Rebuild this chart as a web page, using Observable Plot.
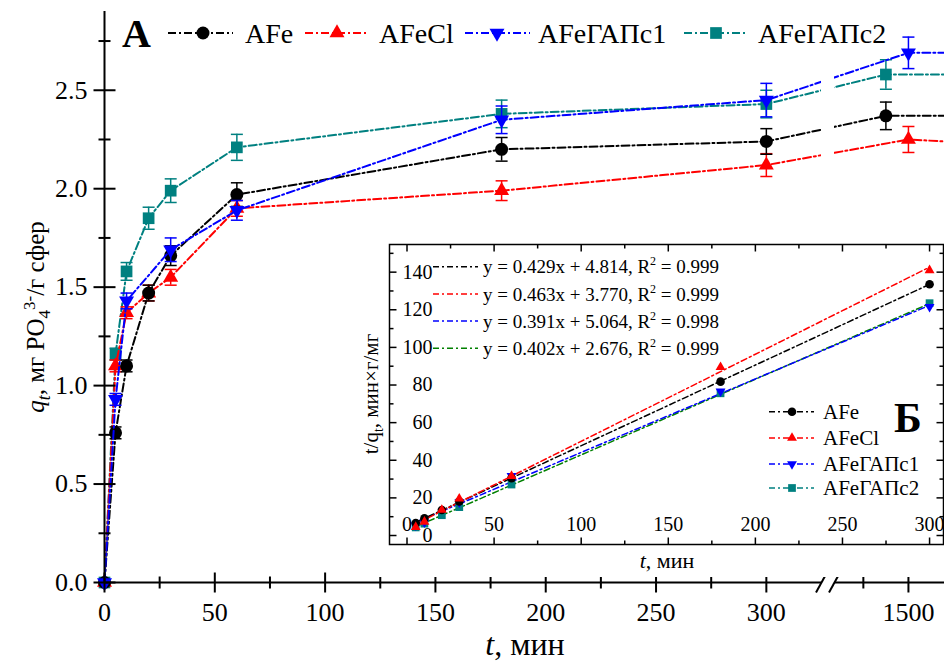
<!DOCTYPE html>
<html>
<head>
<meta charset="utf-8">
<script src="https://cdn.jsdelivr.net/npm/d3@7"></script>
<script src="https://cdn.jsdelivr.net/npm/@observablehq/plot@0.6"></script>
<style>
  html, body { margin: 0; padding: 0; background: #fff; overflow: hidden; }
  #chart { position: relative; width: 944px; height: 661px; }
  #chart svg { position: absolute; left: 0; top: 0; }
</style>
</head>
<body>
<div id="chart"></div>
<script>
// ---- series ----
const seriesNames  = ["AFe", "AFeCl", "AFeГАПс1", "AFeГАПс2"];
const seriesColors = ["#000000", "#ff0000", "#0000ff", "#008080"];
const fitColors    = ["#000000", "#ff0000", "#0000ff", "#008000"];

// sorption kinetics: t (min), q_t (mg PO4 3- / g spheres), error half-width
const timesAFe = [0, 5, 10, 20, 30, 60, 180, 300, 1475, 1560];
const qAFe     = [0, 0.76, 1.10, 1.47, 1.66, 1.97, 2.20, 2.24, 2.37, 2.37];
const errAFe   = [0, 0.03, 0.03, 0.04, 0.05, 0.06, 0.06, 0.065, 0.07, 0.07];

const timesAFeCl = [0, 5, 10, 20, 30, 60, 180, 300, 1500, 1560];
const qAFeCl     = [0, 1.10, 1.37, 1.47, 1.55, 1.90, 1.99, 2.12, 2.25, 2.235];
const errAFeCl   = [0, 0.03, 0.03, 0.04, 0.04, 0.04, 0.05, 0.058, 0.066, 0.066];

const timesG1 = [0, 5, 10, 30, 60, 180, 300, 1500, 1560];
const qG1     = [0, 0.93, 1.43, 1.69, 1.89, 2.35, 2.45, 2.69, 2.69];
const errG1   = [0, 0.03, 0.04, 0.06, 0.05, 0.07, 0.085, 0.08, 0.08];

const timesG2 = [0, 5, 10, 20, 30, 60, 180, 300, 1475, 1560];
const qG2     = [0, 1.16, 1.58, 1.85, 1.99, 2.21, 2.38, 2.43, 2.58, 2.58];
const errG2   = [0, 0.03, 0.045, 0.056, 0.06, 0.066, 0.07, 0.07, 0.075, 0.075];

// pseudo-second-order plot: t/q_t (min·g/mg)
const kinTimes   = [5, 10, 20, 30, 60, 180, 300];
const kinTimesG1 = [5, 10, 30, 60, 180, 300];
const kinAFe   = [6.6, 9.1, 13.6, 18.1, 30.5, 81.8, 133.6];
const kinAFeCl = [4.5, 7.3, 13.6, 19.6, 31.6, 89.5, 141.0];
const kinG1    = [5.4, 7.0, 17.6, 31.7, 76.6, 121.6];
const kinG2    = [4.3, 6.3, 10.8, 15.1, 27.1, 75.6, 123.5];

// linear fits y = a·x + b
const fitSlope     = [0.429, 0.463, 0.391, 0.402];
const fitIntercept = [4.814, 3.770, 5.064, 2.676];
const fitR2        = [0.999, 0.999, 0.998, 0.999];
const fitSpan      = [5, 300];

// axis ticks
const xMajor = [0, 50, 100, 150, 200, 250, 300, 1500];
const xMinor = [25, 75, 125, 175, 225, 275, 1450];
const yMajor = [0, 0.5, 1.0, 1.5, 2.0, 2.5];
const yMinor = [0.25, 0.75, 1.25, 1.75, 2.25, 2.75];
const xBreak = [325, 1418];

const inXMajor = [0, 50, 100, 150, 200, 250, 300];
const inXMinor = [25, 75, 125, 175, 225, 275];
const inYMajor = [0, 20, 40, 60, 80, 100, 120, 140];
const inYMinor = [10, 30, 50, 70, 90, 110, 130, 150];

// ---- symbols ----
const unit = s => Math.sqrt(s / Math.PI);
const symCircle = {draw(c, s) { const r = unit(s); c.moveTo(r, 0); c.arc(0, 0, r, 0, 2 * Math.PI); }};
const symUp = {draw(c, s) { const r = unit(s), a = 1.15 * r, h = a * Math.sqrt(3);
  c.moveTo(0, -2 * h / 3); c.lineTo(a, h / 3); c.lineTo(-a, h / 3); c.closePath(); }};
const symDown = {draw(c, s) { const r = unit(s), a = 1.15 * r, h = a * Math.sqrt(3);
  c.moveTo(0, 2 * h / 3); c.lineTo(a, -h / 3); c.lineTo(-a, -h / 3); c.closePath(); }};
const symSquare = {draw(c, s) { const r = unit(s) * 0.9; c.rect(-r, -r, 2 * r, 2 * r); }};
const symbols = [symCircle, symUp, symDown, symSquare];
// line-like glyphs for ticks, caps and the axis break
const hLine = {draw(c, s) { const r = unit(s); c.moveTo(-r, 0); c.lineTo(r, 0); }};
const vLine = {draw(c, s) { const r = unit(s); c.moveTo(0, -r); c.lineTo(0, r); }};
const slash = {draw(c, s) { const r = unit(s); c.moveTo(-0.55 * r, r); c.lineTo(0.55 * r, -r); }};
const tickUp    = {draw(c, s) { const r = unit(s); c.moveTo(0, 0); c.lineTo(0, -r); }};
const tickDown  = {draw(c, s) { const r = unit(s); c.moveTo(0, 0); c.lineTo(0, r); }};
const tickRight = {draw(c, s) { const r = unit(s); c.moveTo(0, 0); c.lineTo(r, 0); }};
const tickLeft  = {draw(c, s) { const r = unit(s); c.moveTo(0, 0); c.lineTo(-r, 0); }};

const dash = "8,3,2,3";
const font = "'Liberation Serif', 'Times New Roman', serif";

function rowsOf(times, q, err) {
  return times.map((t, j) => ({t, q: q[j], e: err[j]}));
}
const mainSeries = [
  rowsOf(timesAFe, qAFe, errAFe),
  rowsOf(timesAFeCl, qAFeCl, errAFeCl),
  rowsOf(timesG1, qG1, errG1),
  rowsOf(timesG2, qG2, errG2)
];
const drawOrder = [3, 1, 0, 2];

const mainMarks = [];
for (const i of drawOrder) {
  const rows = mainSeries[i];
  const withErr = rows.filter(d => d.e > 0);
  const col = seriesColors[i];
  mainMarks.push(
    Plot.line(rows, {x: "t", y: "q", stroke: col, strokeWidth: 2, strokeDasharray: dash}),
    Plot.ruleX(withErr, {x: "t", y1: d => d.q - d.e, y2: d => d.q + d.e, stroke: col, strokeWidth: 1.5}),
    Plot.dot(withErr, {x: "t", y: d => d.q + d.e, symbol: hLine, r: 6, stroke: col, fill: "none", strokeWidth: 1.5}),
    Plot.dot(withErr, {x: "t", y: d => d.q - d.e, symbol: hLine, r: 6, stroke: col, fill: "none", strokeWidth: 1.5}),
    Plot.dot(rows, {x: "t", y: "q", symbol: symbols[i], r: 6.5, fill: col, stroke: "none"})
  );
}

const main = Plot.plot({
  width: 944, height: 661,
  marginLeft: 104, marginRight: 0, marginTop: 11, marginBottom: 79,
  style: {fontFamily: font, fontSize: "26px", background: "#fff", color: "#000"},
  x: {type: "linear", domain: [0, xBreak[0], xBreak[1], 1540], range: [104, 821, 834, 944], axis: null},
  y: {domain: [0, 2.9], axis: null},
  marks: [
    ...mainMarks,
    // blank strip of the broken axis
    Plot.rect([xBreak], {x1: d => d[0], x2: d => d[1], y1: 0, y2: 2.9, fill: "#fff"}),
    // axis lines
    Plot.ruleX([0], {y1: 0, y2: 2.9, stroke: "#000", strokeWidth: 2}),
    Plot.ruleY([0], {x1: 0, x2: xBreak[0], stroke: "#000", strokeWidth: 2}),
    Plot.ruleY([0], {x1: xBreak[1], x2: 1540, stroke: "#000", strokeWidth: 2}),
    Plot.dot(xBreak, {x: d => d, y: 0, symbol: slash, r: 10, stroke: "#000", fill: "none", strokeWidth: 2}),
    // ticks
    Plot.dot(xMajor, {x: d => d, y: 0, symbol: vLine, r: 10, stroke: "#000", fill: "none", strokeWidth: 2}),
    Plot.dot(xMinor, {x: d => d, y: 0, symbol: vLine, r: 6, stroke: "#000", fill: "none", strokeWidth: 2}),
    Plot.dot(yMajor, {x: 0, y: d => d, symbol: hLine, r: 11, stroke: "#000", fill: "none", strokeWidth: 2}),
    Plot.dot(yMinor, {x: 0, y: d => d, symbol: hLine, r: 6, stroke: "#000", fill: "none", strokeWidth: 2}),
    // tick labels
    Plot.text(xMajor, {x: d => d, y: 0, text: d => String(d), dy: 30, fontSize: 26, lineAnchor: "middle", fill: "#000"}),
    Plot.text(yMajor, {x: 0, y: d => d, text: d => d.toFixed(1), dx: -17, textAnchor: "end", fontSize: 26, lineAnchor: "middle", fill: "#000"})
  ]
});
document.getElementById("chart").appendChild(main);

// ---- inset: t/q_t vs t ----
const kinSeries = [
  kinTimes.map((t, j) => ({t, v: kinAFe[j]})),
  kinTimes.map((t, j) => ({t, v: kinAFeCl[j]})),
  kinTimesG1.map((t, j) => ({t, v: kinG1[j]})),
  kinTimes.map((t, j) => ({t, v: kinG2[j]}))
];
const fitRows = i => fitSpan.map(t => ({t, v: fitSlope[i] * t + fitIntercept[i]}));

const insetMarks = [];
for (const i of [3, 2, 0, 1]) {
  insetMarks.push(Plot.line(fitRows(i), {x: "t", y: "v", stroke: fitColors[i], strokeWidth: 1.5, strokeDasharray: "6,3,2,3"}));
}
for (const i of [3, 2, 0, 1]) {
  insetMarks.push(Plot.dot(kinSeries[i], {x: "t", y: "v", symbol: symbols[i], r: 4.3, fill: seriesColors[i], stroke: "none"}));
}

const INSET_LEFT = 345, INSET_TOP = 232;
const inset = Plot.plot({
  width: 599, height: 345,
  marginLeft: 44, marginRight: 1, marginTop: 12, marginBottom: 33,
  style: {fontFamily: font, fontSize: "20px", background: "#fff", color: "#000"},
  x: {domain: [-10.05, 308], axis: null},
  y: {domain: [-4.78, 154.7], axis: null},
  marks: [
    ...insetMarks,
    Plot.frame({stroke: "#000", strokeWidth: 1.5}),
    Plot.dot(inXMajor, {x: d => d, frameAnchor: "bottom", symbol: tickUp, r: 7, stroke: "#000", fill: "none", strokeWidth: 1.5}),
    Plot.dot(inXMinor, {x: d => d, frameAnchor: "bottom", symbol: tickUp, r: 4, stroke: "#000", fill: "none", strokeWidth: 1.5}),
    Plot.dot(inXMajor, {x: d => d, frameAnchor: "top", symbol: tickDown, r: 7, stroke: "#000", fill: "none", strokeWidth: 1.5}),
    Plot.dot(inXMinor, {x: d => d, frameAnchor: "top", symbol: tickDown, r: 4, stroke: "#000", fill: "none", strokeWidth: 1.5}),
    Plot.dot(inYMajor, {y: d => d, frameAnchor: "left", symbol: tickRight, r: 7, stroke: "#000", fill: "none", strokeWidth: 1.5}),
    Plot.dot(inYMinor, {y: d => d, frameAnchor: "left", symbol: tickRight, r: 4, stroke: "#000", fill: "none", strokeWidth: 1.5}),
    Plot.dot(inYMajor, {y: d => d, frameAnchor: "right", symbol: tickLeft, r: 7, stroke: "#000", fill: "none", strokeWidth: 1.5}),
    Plot.dot(inYMinor, {y: d => d, frameAnchor: "right", symbol: tickLeft, r: 4, stroke: "#000", fill: "none", strokeWidth: 1.5}),
    Plot.text(inXMajor, {x: d => d, frameAnchor: "bottom", dy: -20, text: d => String(d), fontSize: 20, lineAnchor: "middle", fill: "#000"}),
    Plot.text(inYMajor, {y: d => d, frameAnchor: "left", dx: 43, text: d => String(d), textAnchor: "end", fontSize: 20, lineAnchor: "middle", fill: "#000"})
  ]
});
inset.style.left = INSET_LEFT + "px";
inset.style.top = INSET_TOP + "px";
document.getElementById("chart").appendChild(inset);

// ---- titles, legends, axis titles ----
function sample(g, x1, x2, xm, y, i, r, sw, dasharray, lineColor) {
  g.append("line").attr("x1", x1).attr("x2", x2).attr("y1", y).attr("y2", y)
    .attr("stroke", lineColor || seriesColors[i]).attr("stroke-width", sw).attr("stroke-dasharray", dasharray);
  if (xm != null) {
    g.append("path").attr("transform", `translate(${xm},${y})`)
      .attr("d", d3.symbol(symbols[i], Math.PI * r * r)()).attr("fill", seriesColors[i]);
  }
}
function label(parent, x, y, size) {
  return parent.append("text").attr("x", x).attr("y", y)
    .attr("text-anchor", "start").style("font-size", size + "px").style("font-family", font).attr("fill", "#000");
}

const ms = d3.select(main);
label(ms, 122, 47, 40).style("font-weight", "bold").text("А");
const legendMain = [
  {x1: 168, x2: 233, xm: 203, xt: 245},
  {x1: 305, x2: 368, xm: 337, xt: 379},
  {x1: 465, x2: 530, xm: 497, xt: 538},
  {x1: 684, x2: 748, xm: 716, xt: 758}
];
const lg = ms.append("g");
legendMain.forEach((p, i) => {
  sample(lg, p.x1, p.x2, p.xm, 33, i, 6.5, 2, dash);
  label(lg, p.xt, 33, 28).attr("dy", "0.35em").text(seriesNames[i]);
});

// y title: q_t, мг PO4(3-)/г сфер
const yt = ms.append("text").attr("transform", "translate(44,317) rotate(-90)").attr("text-anchor", "middle")
  .style("font-size", "25px").style("font-family", font).attr("fill", "#000");
yt.append("tspan").style("font-style", "italic").text("q");
yt.append("tspan").style("font-style", "italic").style("font-size", "18px").attr("dy", 6).text("t");
yt.append("tspan").attr("dy", -6).text(", мг PO");
yt.append("tspan").style("font-size", "17px").attr("dy", 6).text("4");
yt.append("tspan").style("font-size", "17px").attr("dy", -15).text("3-");
yt.append("tspan").attr("dy", 9).text("/г сфер");

// x title: t, мин
const xt = ms.append("text").attr("x", 525).attr("y", 655).attr("text-anchor", "middle")
  .style("font-size", "32px").style("font-family", font).attr("fill", "#000");
xt.append("tspan").style("font-style", "italic").text("t");
xt.append("tspan").text(", мин");

// inset decorations
const is = d3.select(inset);
label(is, 549, 200, 42).style("font-weight", "bold").text("Б");

const eqRows = [22.7, 49.9, 77.1, 104.3];
const eg = is.append("g");
eqRows.forEach((dy, i) => {
  const y = 12 + dy;
  sample(eg, 88, 133, null, y, i, 0, 1.5, "6,3,2,3", fitColors[i]);
  const t = label(eg, 138, y, 19).attr("dy", "0.35em");
  t.append("tspan").text(`y = ${fitSlope[i].toFixed(3)}x + ${fitIntercept[i].toFixed(3)}, R`);
  t.append("tspan").style("font-size", "12px").attr("dy", -8).text("2");
  t.append("tspan").attr("dy", 8).text(` = ${fitR2[i].toFixed(3)}`);
});

const legendInset = [179.7, 206, 232, 256];
const lgi = is.append("g");
legendInset.forEach((y, i) => {
  sample(lgi, 424, 469, 447, y, i, 4.3, 1.5, "6,3,2,3");
  label(lgi, 478, y, 21).attr("dy", "0.35em").text(seriesNames[i]);
});

// inset axis titles
const iyt = is.append("text").attr("transform", "translate(33,162) rotate(-90)").attr("text-anchor", "middle")
  .style("font-size", "21px").style("font-family", font).attr("fill", "#000");
iyt.append("tspan").text("t/q");
iyt.append("tspan").style("font-size", "14px").attr("dy", 5).text("t");
iyt.append("tspan").attr("dy", -5).text(", мин×г/мг");

const ixt = is.append("text").attr("x", 322).attr("y", 336).attr("text-anchor", "middle")
  .style("font-size", "22px").style("font-family", font).attr("fill", "#000");
ixt.append("tspan").style("font-style", "italic").text("t");
ixt.append("tspan").text(", мин");
</script>
</body>
</html>
